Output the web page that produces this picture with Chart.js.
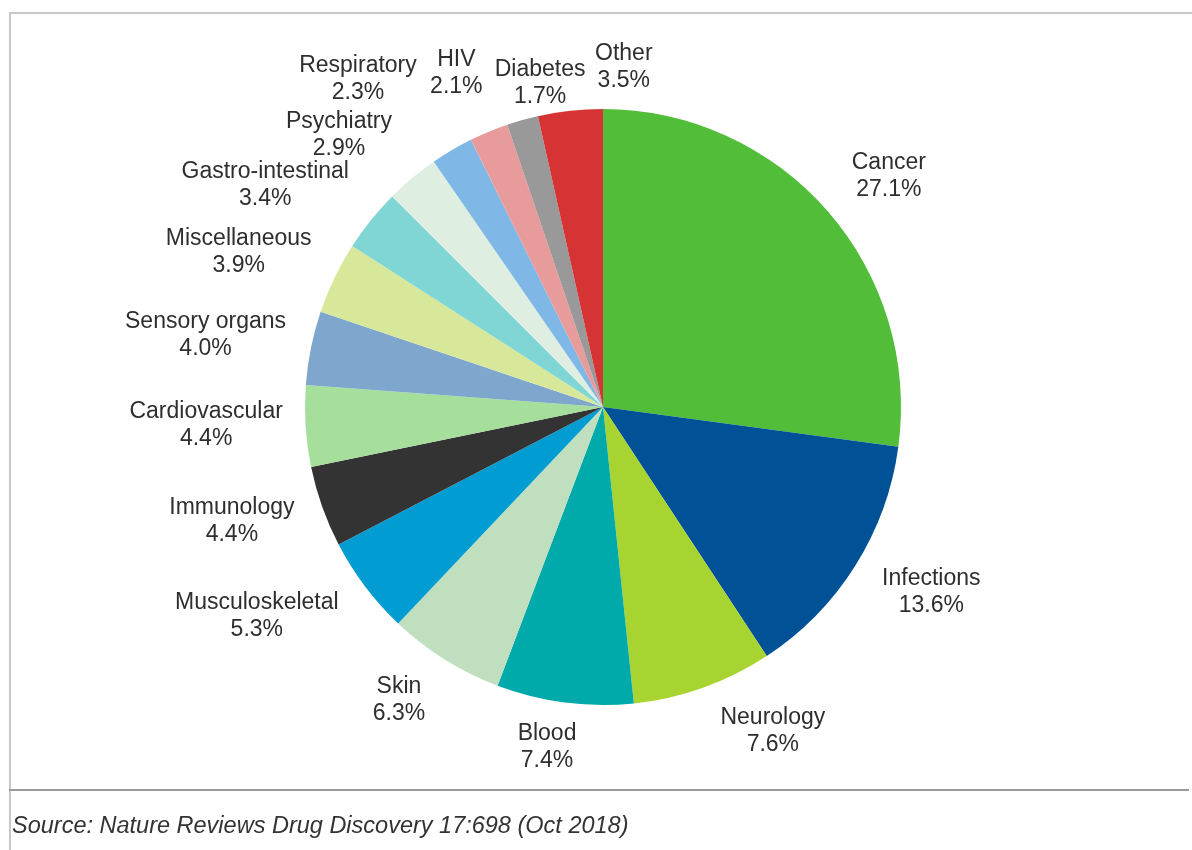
<!DOCTYPE html>
<html>
<head>
<meta charset="utf-8">
<title>Therapeutic areas</title>
<script src="https://cdn.jsdelivr.net/npm/chart.js@4.4.1/dist/chart.umd.min.js"></script>
<style>
  html, body { margin: 0; padding: 0; background: #ffffff; }
  body { width: 1192px; height: 850px; position: relative; overflow: hidden; font-family: "Liberation Sans", Arial, Helvetica, sans-serif; }
  #frameTop { position: absolute; left: 9px; top: 12px; width: 1183px; height: 2px; background: #c8c8c8; }
  #frameLeft { position: absolute; left: 9px; top: 12px; width: 2px; height: 838px; background: #c8c8c8; }
  #rule { position: absolute; left: 9px; top: 789px; width: 1180px; height: 2px; background: #9a9a9a; }
  #source { position: absolute; left: 12px; top: 812px; font-size: 23.5px; font-style: italic; color: #333333; white-space: nowrap; }
  #wrap { position: absolute; left: 0; top: 0; width: 1192px; height: 850px; }
</style>
</head>
<body>
<div id="wrap"><canvas id="pie" width="1192" height="850"></canvas></div>
<div id="frameTop"></div>
<div id="frameLeft"></div>
<div id="rule"></div>
<div id="source">Source: Nature Reviews Drug Discovery 17:698 (Oct 2018)</div>
<script>
// Share of drug pipeline by therapeutic area (%), clockwise from 12 o'clock
const categories = [
  'Cancer', 'Infections', 'Neurology', 'Blood', 'Skin', 'Musculoskeletal',
  'Immunology', 'Cardiovascular', 'Sensory organs', 'Miscellaneous',
  'Gastro-intestinal', 'Psychiatry', 'Respiratory', 'HIV', 'Diabetes', 'Other'
];
const shares = [27.1, 13.6, 7.6, 7.4, 6.3, 5.3, 4.4, 4.4, 4.0, 3.9, 3.4, 2.9, 2.3, 2.1, 1.7, 3.5];

const sliceColors = [
  '#52bd38', '#005196', '#a8d432', '#00aaaa', '#bfdfbf', '#009cd2',
  '#333333', '#a6de9b', '#7fa6cc', '#d7e89b', '#7fd6d4', '#deeee0',
  '#7fb8e6', '#e89b9b', '#999999', '#d63434'
];

// Hand adjustments for crowded labels (px), applied after outside placement
const labelNudge = [
  [11, 2], [9, -3], [42, -8], [-10, -10], [-16, -6], [-19, -3],
  [-3, -4], [7, -5], [3, -2], [-3, -2], [-17, -1], [-20, -1],
  [-49, -24], [-11, -8], [38, 16], [60, 11]
];

const LABEL_FONT = '23px "Liberation Sans", Arial, Helvetica, sans-serif';
const LINE_H = 27;
const GAP = 30;

const outsideLabels = {
  id: 'outsideLabels',
  afterDatasetsDraw(chart) {
    const ctx = chart.ctx;
    const meta = chart.getDatasetMeta(0);
    ctx.save();
    ctx.font = LABEL_FONT;
    ctx.fillStyle = '#2e2e2e';
    ctx.textAlign = 'center';
    ctx.textBaseline = 'middle';
    meta.data.forEach((arc, i) => {
      const p = arc.getProps(['x', 'y', 'startAngle', 'endAngle', 'outerRadius'], true);
      const mid = (p.startAngle + p.endAngle) / 2;
      const c = Math.cos(mid), s = Math.sin(mid);
      const lines = [categories[i], shares[i].toFixed(1) + '%'];
      const w = Math.max(...lines.map(t => ctx.measureText(t).width));
      const h = LINE_H * lines.length;
      const ax = p.x + (p.outerRadius + GAP) * c;
      const ay = p.y + (p.outerRadius + GAP) * s;
      const cx = ax + (w / 2) * c + labelNudge[i][0];
      const cy = ay + (h / 2 - 2) * s + labelNudge[i][1];
      lines.forEach((t, k) => {
        ctx.fillText(t, cx, cy + (k - (lines.length - 1) / 2) * LINE_H);
      });
    });
    ctx.restore();
  }
};

new Chart(document.getElementById('pie'), {
  type: 'pie',
  data: {
    labels: categories,
    datasets: [{
      data: shares,
      backgroundColor: sliceColors,
      borderWidth: 0,
      hoverOffset: 0
    }]
  },
  options: {
    responsive: false,
    animation: false,
    layout: { padding: { left: 305, right: 291, top: 109, bottom: 145 } },
    plugins: {
      legend: { display: false },
      tooltip: { enabled: false }
    }
  },
  plugins: [outsideLabels]
});
</script>
</body>
</html>
